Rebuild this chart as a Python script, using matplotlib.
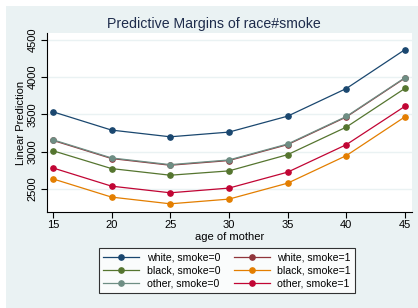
import matplotlib
matplotlib.use("Agg")
import matplotlib.pyplot as plt
from matplotlib.patches import Rectangle

plt.rcParams['font.family'] = ['Liberation Sans', 'DejaVu Sans']

ages = [15, 20, 25, 30, 35, 40, 45]

white0 = [3536, 3290, 3200, 3263, 3477, 3848, 4371]
white1 = [3152, 2908, 2818, 2881, 3095, 3466, 3988]
black0 = [3013, 2773, 2684, 2742, 2960, 3330, 3850]
black1 = [2635, 2390, 2300, 2363, 2577, 2947, 3468]
other0 = [3160, 2916, 2826, 2889, 3103, 3473, 3994]
other1 = [2782, 2537, 2448, 2511, 2725, 3094, 3610]

labels = ["white, smoke=0", "white, smoke=1", "black, smoke=0",
          "black, smoke=1", "other, smoke=0", "other, smoke=1"]
series = [white0, white1, black0, black1, other0, other1]
colors = ["#1a476f", "#90353b", "#55752f", "#e37e00", "#6e8e84", "#c10534"]

yticks = [2500, 3000, 3500, 4000, 4500]
xticks = [15, 20, 25, 30, 35, 40, 45]

fig = plt.figure(figsize=(4.18, 3.08), dpi=100)
fig.patch.set_facecolor("white")
fig.patches.append(Rectangle((6 / 418, 0), 1, 1 - 6 / 308, transform=fig.transFigure,
                             facecolor="#eaf2f3", edgecolor="none", zorder=-10))

ax = fig.add_axes([47 / 418, 1 - 212 / 308, 365 / 418, 179 / 308])
ax.set_facecolor("white")

handles = []
for vals, lab, col in zip(series, labels, colors):
    h, = ax.plot(ages, vals, color=col, lw=0.9, marker="o", markersize=3.8, label=lab)
    handles.append(h)

ax.set_xlim(14.5, 45.6)
ax.set_ylim(2190, 4594)
ax.set_xticks(xticks)
ax.set_yticks(yticks)
ax.set_yticklabels([str(t) for t in yticks], rotation=90, va="center")
ax.grid(axis="y", color="#eaf2f3", lw=1)
ax.set_axisbelow(True)
for s in ["top", "right"]:
    ax.spines[s].set_visible(False)
ax.tick_params(labelsize=8, length=4, width=0.8, colors="black", pad=2)
ax.tick_params(axis="y", pad=3)
ax.set_xlabel("age of mother", fontsize=8, labelpad=1)
ax.set_ylabel("Linear Prediction", fontsize=8, labelpad=1)
fig.text(214 / 418, 1 - 24 / 308, "Predictive Margins of race#smoke",
         fontsize=10.2, color="#1e2c4c", ha="center", va="center")

order = [0, 2, 4, 1, 3, 5]
leg = fig.legend([handles[i] for i in order], [labels[i] for i in order],
                 loc="center", bbox_to_anchor=(227 / 418, 1 - 270.5 / 308), ncol=2,
                 fontsize=7.6, frameon=True, fancybox=False, handlelength=3.4,
                 columnspacing=1.3, labelspacing=0.3, borderpad=0.4, handletextpad=0.7)
leg.get_frame().set_edgecolor("black")
leg.get_frame().set_linewidth(0.8)

fig.savefig("out.png", dpi=100)
